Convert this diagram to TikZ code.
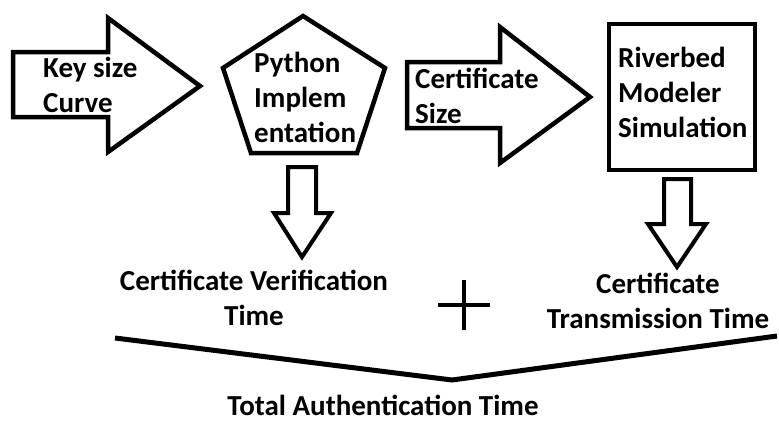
\documentclass[tikz,border=0pt]{standalone}
\usepackage{fontspec}
\setmainfont{Carlito}
\usetikzlibrary{positioning}

\tikzset{
  outline/.style={line width=4.5pt, line join=miter},
  thin outline/.style={line width=4pt, line join=miter},
  txt/.style={font=\fontsize{29}{35}\selectfont\bfseries, inner sep=0pt},
}

\begin{document}
\begin{tikzpicture}[x=1pt, y=-1pt]
  \useasboundingbox (0,0) rectangle (779,421);

  % block arrows and boxes
  \draw[outline] (13,52) -- (108,52) -- (108,18) -- (200,86) -- (108,152) -- (108,117) -- (13,117) -- cycle;
  \draw[outline] (303,16) -- (385,68) -- (357,153) -- (251,153) -- (223,68) -- cycle;
  \draw[outline] (407,62) -- (500,62) -- (500,27) -- (590,97) -- (500,163) -- (500,128) -- (407,128) -- cycle;
  \draw[outline] (609,24) rectangle (755,170);

  \draw[thin outline] (288,167) -- (316,167) -- (316,213) -- (331,213) -- (302,257) -- (274,213) -- (288,213) -- cycle;
  \draw[thin outline] (664,179) -- (691,179) -- (691,224) -- (706,224) -- (677,267) -- (648,224) -- (664,224) -- cycle;

  % texts (base = last line)
  \node[txt, anchor=base west, align=left] (keysize) at (43,112) {Key size\\Curve};
  \node[txt, anchor=base west, align=left] (python) at (254,142) {Python\\Implem\\entation};
  \node[txt, anchor=base west, align=left] (certsize) at (415,123) {Certificate\\Size};
  \node[txt, anchor=base west, align=left] (riverbed) at (618,137) {Riverbed\\Modeler\\Simulation};

  \node[txt, anchor=base, align=center] (verif) at (254,325) {Certificate Verification\\Time};
  \node[txt, anchor=base, align=center] (trans) at (658,328) {Certificate\\Transmission Time};

  % plus sign
  \coordinate (plus) at (464,305);
  \draw[thin outline] ([xshift=-26pt]plus) -- ([xshift=26pt]plus);
  \draw[thin outline] ([yshift=-25pt]plus) -- ([yshift=25pt]plus);

  % sum bracket
  \coordinate (tip) at (452,380);
  \draw[line width=5pt] (115,338) -- (tip) -- (777,336);
  \node[txt, anchor=base] (total) at (383,415) {Total Authentication Time};
\end{tikzpicture}
\end{document}
